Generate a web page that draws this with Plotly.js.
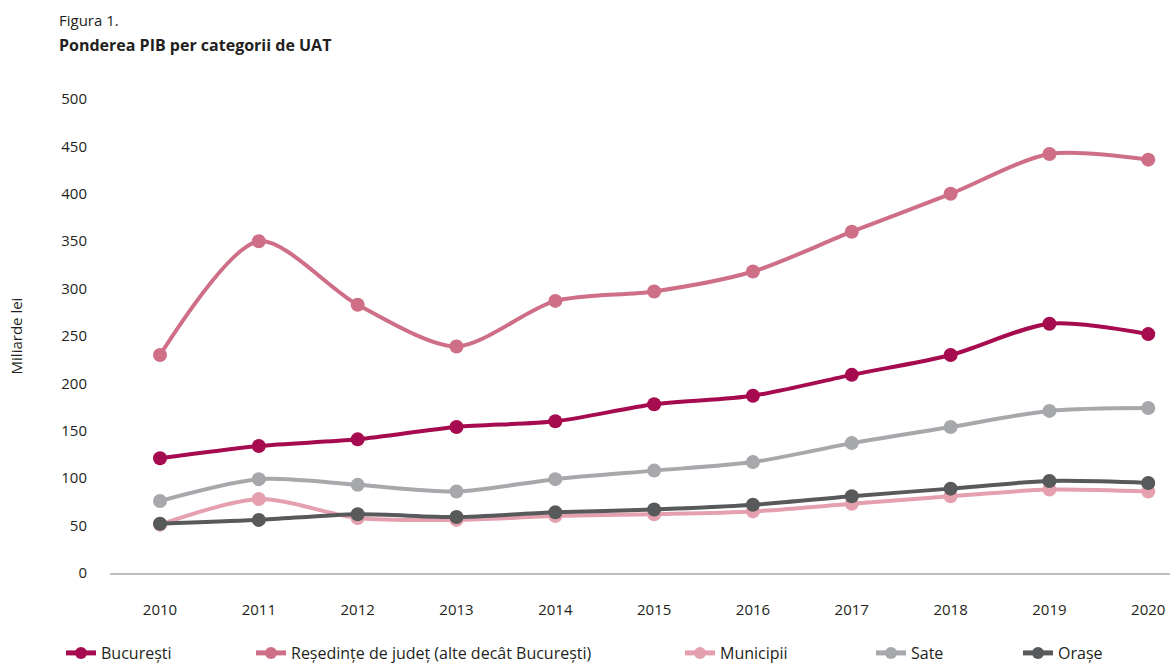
<!DOCTYPE html>
<html>
<head>
<meta charset="utf-8">
<script src="https://cdn.plot.ly/plotly-3.0.1.min.js"></script>
<style>html,body{margin:0;padding:0;background:#fff;}#chart{width:1170px;height:670px;}</style>
</head>
<body>
<div id="chart"></div>
<script>
const years = [2010, 2011, 2012, 2013, 2014, 2015, 2016, 2017, 2018, 2019, 2020];
const seriesNames = ["București", "Reședințe de județ (alte decât București)", "Municipii", "Sate", "Orașe"];
const bucuresti = [121, 134, 141, 154, 160, 178, 187, 209, 230, 263, 252];
const resedinte = [230, 350, 283, 239, 287, 297, 318, 360, 400, 442, 436];
const municipii = [51, 78, 58, 56, 60, 62, 65, 73, 81, 88, 86];
const sate = [76, 99, 93, 86, 99, 108, 117, 137, 154, 171, 174];
const orase = [52, 56, 62, 59, 64, 67, 72, 81, 89, 97, 95];
const colors = ["#A50B4E", "#CE6F87", "#E4A0AE", "#A7A8AB", "#58595B"];
const legendX = [61, 251, 680, 871, 1018];

const FONT = "Open Sans, sans-serif";
const allSeries = [bucuresti, resedinte, municipii, sate, orase];
const order = [1, 0, 3, 2, 4];
const traces = order.map(i => ({
  x: years, y: allSeries[i], name: seriesNames[i], type: "scatter", mode: "lines+markers",
  line: {color: colors[i], width: 4, shape: "spline", smoothing: 0.8},
  marker: {color: colors[i], size: 14},
  cliponaxis: false,
  legend: i === 0 ? "legend" : "legend" + (i + 1)
}));

const L = 110, R = 1170, T = 99, B = 92;
const layout = {
  width: 1170, height: 670,
  margin: {l: L, r: 0, t: T, b: B},
  paper_bgcolor: "#fff", plot_bgcolor: "#fff",
  font: {family: FONT, size: 14, color: "#231f20"},
  showlegend: true,
  xaxis: {
    range: [2009.494, 2020.22], tickvals: years, ticktext: years.map(String),
    showgrid: false, zeroline: false, showline: true, linecolor: "#BDBEC0", linewidth: 2,
    ticks: "", ticklabelstandoff: 22, tickfont: {size: 15, family: FONT}
  },
  yaxis: {
    range: [0, 500], tickvals: [0, 50, 100, 150, 200, 250, 300, 350, 400, 450, 500],
    showgrid: false, zeroline: false, showline: false, ticks: "",
    ticklabelstandoff: 22, tickfont: {size: 15, family: FONT},
    title: {text: "Miliarde lei", font: {size: 15, family: FONT}, standoff: 35}
  },
  annotations: [
    {text: "Figura 1.", xref: "paper", yref: "paper", x: (57 - L) / (R - L), y: 1, yshift: 79,
     xanchor: "left", yanchor: "middle", showarrow: false, font: {size: 15, family: FONT}},
    {text: "<b>Ponderea PIB per categorii de UAT</b>", xref: "paper", yref: "paper", x: (57 - L) / (R - L), y: 1, yshift: 54,
     xanchor: "left", yanchor: "middle", showarrow: false, font: {size: 16, family: FONT}}
  ]
};
[0,1,2,3,4].forEach(i => {
  const key = i === 0 ? "legend" : "legend" + (i + 1);
  layout[key] = {
    x: (legendX[i] - L) / (R - L), xanchor: "left", xref: "paper",
    y: (670 - 659 - B) / (670 - T - B), yanchor: "middle", yref: "paper",
    orientation: "h", font: {size: 16, family: FONT}, bgcolor: "rgba(0,0,0,0)",
    itemsizing: "constant"
  };
});
Plotly.newPlot("chart", traces, layout, {displayModeBar: false, staticPlot: true});
</script>
</body>
</html>
